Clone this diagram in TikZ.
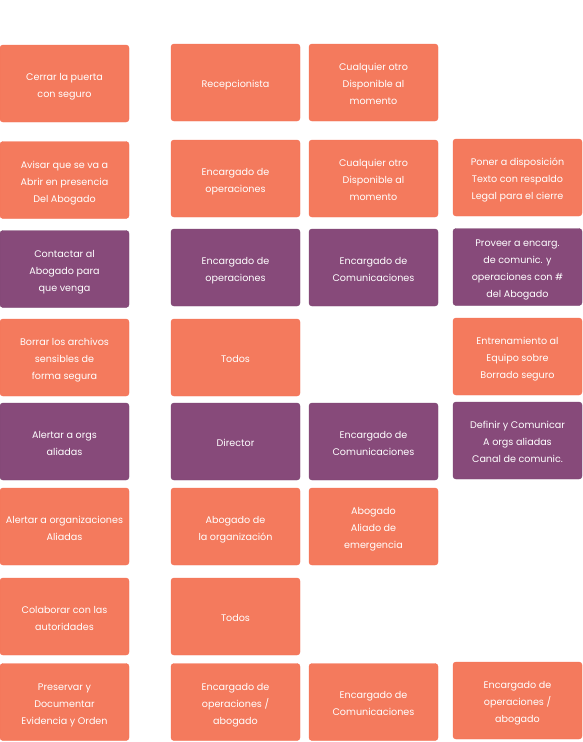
\documentclass[tikz,border=0pt]{standalone}
\usepackage{fontspec}
\setmainfont{Poppins}
\definecolor{boxorange}{HTML}{F47A5D}
\definecolor{boxpurple}{HTML}{874A7A}
\newcommand\celltxt[1]{\raisebox{-1.8pt}[\height][\depth]{\begin{tabular}{@{}c@{}}#1\end{tabular}}}
\begin{document}
\begin{tikzpicture}[x=1pt,y=-1pt,
  cell/.style={rounded corners=3pt, minimum width=129pt, minimum height=77pt,
    inner sep=0pt, text=white,
    font=\fontsize{9.6}{17}\selectfont},
  org/.style={cell, fill=boxorange, draw=boxorange!90!red, line width=0.4pt},
  pur/.style={cell, fill=boxpurple, draw=boxpurple!90!black, line width=0.4pt}]
\useasboundingbox (0,0) rectangle (582,742);
% row 1
\node[org] (a1) at (64.5,83.5) {\celltxt{Cerrar la puerta\\con seguro}};
\node[org] (b1) at (235.5,82.5) {\celltxt{Recepcionista}};
\node[org] (c1) at (373.5,82.5) {\celltxt{Cualquier otro\\Disponible al\\momento}};
% row 2
\node[org] (a2) at (64.5,180) {\celltxt{Avisar que se va a\\Abrir en presencia\\Del Abogado}};
\node[org] (b2) at (235.5,178.5) {\celltxt{Encargado de\\operaciones}};
\node[org] (c2) at (373.5,178.5) {\celltxt{Cualquier otro\\Disponible al\\momento}};
\node[org] (d2) at (517.5,177.5) {\celltxt{Poner a disposición\\Texto con respaldo\\Legal para el cierre}};
% row 3
\node[pur] (a3) at (64.5,269) {\celltxt{Contactar al\\Abogado para\\que venga}};
\node[pur] (b3) at (235.5,267.5) {\celltxt{Encargado de\\operaciones}};
\node[pur] (c3) at (373.5,267.5) {\celltxt{Encargado de\\Comunicaciones}};
\node[pur] (d3) at (517.5,267) {\celltxt{Proveer a encarg.\\de comunic. y\\operaciones con \#\\del Abogado}};
% row 4
\node[org] (a4) at (64.5,357.5) {\celltxt{Borrar los archivos\\sensibles de\\forma segura}};
\node[org] (b4) at (235.5,357.5) {\celltxt{Todos}};
\node[org] (d4) at (517.5,356.5) {\celltxt{Entrenamiento al\\Equipo sobre\\Borrado seguro}};
% row 5
\node[pur] (a5) at (64.5,441.5) {\celltxt{Alertar a orgs\\aliadas}};
\node[pur] (b5) at (235.5,441.5) {\celltxt{Director}};
\node[pur] (c5) at (373.5,441.5) {\celltxt{Encargado de\\Comunicaciones}};
\node[pur] (d5) at (517.5,440.5) {\celltxt{Definir y Comunicar\\A orgs aliadas\\Canal de comunic.}};
% row 6
\node[org] (a6) at (64.5,526.5) {\celltxt{Alertar a organizaciones\\Aliadas}};
\node[org] (b6) at (235.5,526.5) {\celltxt{Abogado de\\la organización}};
\node[org] (c6) at (373.5,526.5) {\celltxt{Abogado\\Aliado de\\emergencia}};
% row 7
\node[org] (a7) at (64.5,616.5) {\celltxt{Colaborar con las\\autoridades}};
\node[org] (b7) at (235.5,616.5) {\celltxt{Todos}};
% row 8
\node[org] (a8) at (64.5,702) {\celltxt{Preservar y\\Documentar\\Evidencia y Orden}};
\node[org] (b8) at (235.5,702) {\celltxt{Encargado de\\operaciones /\\abogado}};
\node[org] (c8) at (373.5,702) {\celltxt{Encargado de\\Comunicaciones}};
\node[org] (d8) at (517.5,700.5) {\celltxt{Encargado de\\operaciones /\\abogado}};
\end{tikzpicture}
\end{document}
